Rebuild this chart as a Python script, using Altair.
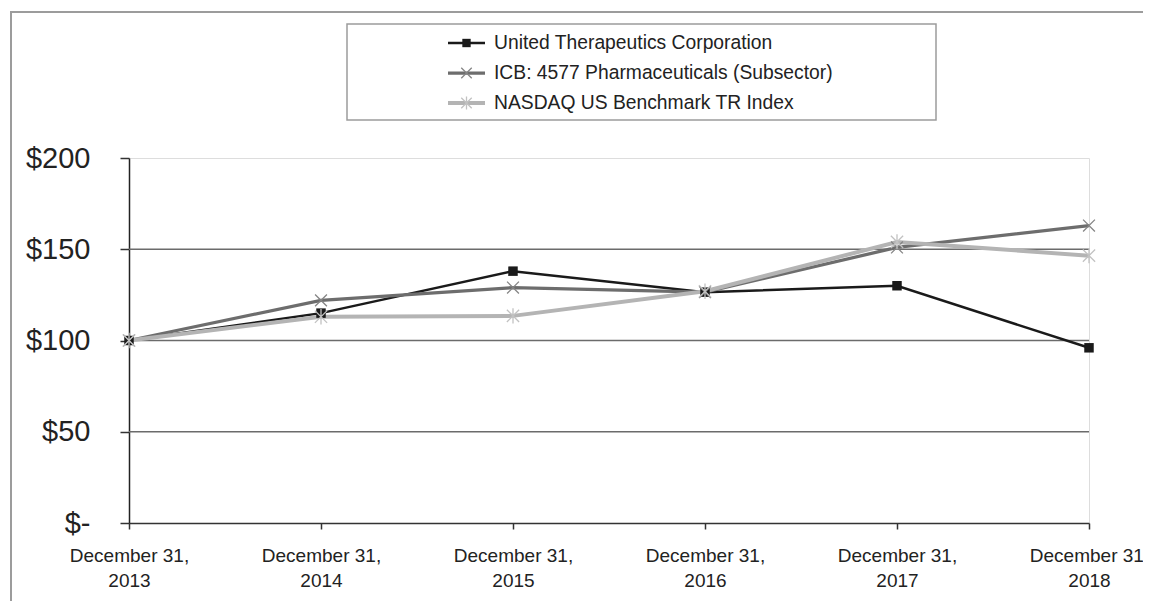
import altair as alt
import pandas as pd

# ---------------- data ----------------
dates = ["December 31, 2013", "December 31, 2014", "December 31, 2015",
         "December 31, 2016", "December 31, 2017", "December 31, 2018"]
series = ["United Therapeutics Corporation",
          "ICB: 4577 Pharmaceuticals (Subsector)",
          "NASDAQ US Benchmark TR Index"]
utc = [100, 115, 138, 126.5, 130, 96]
icb = [100, 122, 129, 126.5, 151, 163]
nasdaq = [100, 113, 113.5, 127, 154, 146.5]
y_ticks = [0, 50, 100, 150, 200]
grid_values = [50, 100, 150]

# ---------------- styles ----------------
line_colors = ["#1a1a1a", "#6d6d6d", "#b4b4b4"]
marker_colors = ["#1a1a1a", "#858585", "#c2c2c2"]
line_widths = [2.5, 4, 4]
x_path = "M-1,-1L1,1M-1,1L1,-1"
ast_path = "M-1,-1L1,1M-1,1L1,-1M0,-1.25L0,1.25"
marker_shapes = ["square", x_path, ast_path]
marker_filled = [True, False, False]
marker_sizes = [90, 140, 150]
legend_marker_sizes = [70, 110, 110]

rows = []
for name, vals in zip(series, [utc, icb, nasdaq]):
    for d, v in zip(dates, vals):
        rows.append({"date": d, "series": name, "value": v})
df = pd.DataFrame(rows)
legend_df = pd.DataFrame({"series": series})

FONT = "Liberation Sans"

x_enc = alt.X("date:N", sort=dates, title=None,
              scale=alt.Scale(type="point", padding=0),
              axis=alt.Axis(labelExpr="[slice(datum.label,0,12), slice(datum.label,13)]",
                            labelAngle=0, labelFont=FONT, labelFontSize=19,
                            labelColor="#222", labelLineHeight=25, labelPadding=17,
                            tickSize=6, tickColor="#333", tickWidth=1.5,
                            domainColor="#333", domainWidth=1.5, grid=False,
                            labelOverlap=False, labelFlush=False, labelBound=False))
y_scale = alt.Scale(domain=[0, 200], nice=False, zero=True)
y_enc = alt.Y("value:Q", title=None, scale=y_scale,
              axis=alt.Axis(values=y_ticks,
                            labelExpr="datum.value == 0 ? '$-' : '$' + datum.value",
                            labelFont=FONT, labelFontSize=29, labelColor="#222",
                            labelPadding=30, tickSize=9, tickColor="#333", tickWidth=1.5,
                            domainColor="#222", domainWidth=1.5, grid=False))

color_enc = alt.Color("series:N", sort=series,
                      scale=alt.Scale(domain=series, range=line_colors), legend=None)
width_enc = alt.StrokeWidth("series:N", scale=alt.Scale(domain=series, range=line_widths),
                            legend=None)

base = alt.Chart(df)

grid = alt.Chart(pd.DataFrame({"value": grid_values})).mark_rule(
    color="#6b6b6b", strokeWidth=1.5).encode(
    y=alt.Y("value:Q", scale=y_scale, title=None), x=alt.value(0), x2=alt.value(960))

lines = base.mark_line().encode(x=x_enc, y=y_enc, color=color_enc, strokeWidth=width_enc)


def marker(chart, name, shp, col, fil, sz, **enc):
    if fil:
        mk = chart.mark_point(shape=shp, filled=True, color=col, opacity=1, size=sz)
    else:
        mk = chart.mark_point(shape=shp, filled=False, stroke=col, strokeWidth=1.3,
                              opacity=1, size=sz)
    return mk.encode(**enc).transform_filter(alt.datum.series == name)


marker_layers = [marker(base, n, s, c, f, z, x=x_enc, y=y_enc)
                 for n, s, c, f, z in zip(series, marker_shapes, marker_colors,
                                          marker_filled, marker_sizes)]

deco = alt.Chart(pd.DataFrame({"k": [0]}))
frame = deco.mark_rect(filled=False, stroke="#9c9c9c", strokeWidth=2).encode(
    x=alt.value(-118), x2=alt.value(1300), y=alt.value(-146), y2=alt.value(800))
legend_box = deco.mark_rect(fill="white", stroke="#9c9c9c", strokeWidth=1.5).encode(
    x=alt.value(218), x2=alt.value(807), y=alt.value(-134), y2=alt.value(-38))

main = alt.layer(frame, legend_box, grid, lines, *marker_layers)

# ---------------- legend (rows placed through a point scale) ----------------
leg_base = alt.Chart(legend_df)
leg_y = alt.Y("series:N", sort=series, title=None, axis=None,
              scale=alt.Scale(type="point", domain=series, range=[-115, -55], padding=0))
leg_lines = leg_base.mark_rule().encode(
    x=alt.value(319), x2=alt.value(356), y=leg_y, color=color_enc, strokeWidth=width_enc)
leg_markers = [marker(leg_base, n, s, c, f, z, x=alt.value(337.5), y=leg_y)
               for n, s, c, f, z in zip(series, marker_shapes, marker_colors,
                                        marker_filled, legend_marker_sizes)]
leg_text = leg_base.mark_text(align="left", baseline="middle", font=FONT, fontSize=19.3,
                              color="#222").encode(x=alt.value(365), y=leg_y,
                                                   text="series:N")
leg = alt.layer(leg_lines, *leg_markers, leg_text)

chart = alt.layer(main, leg).resolve_scale(y="independent").properties(
    width=960, height=365,
    autosize=alt.AutoSizeParams(type="none"),
    padding={"left": 121, "top": 150, "right": 54, "bottom": 78},
).configure_view(stroke=None).configure(background="white")

chart.save("out.html", embed_options={"renderer": "svg", "actions": False})
